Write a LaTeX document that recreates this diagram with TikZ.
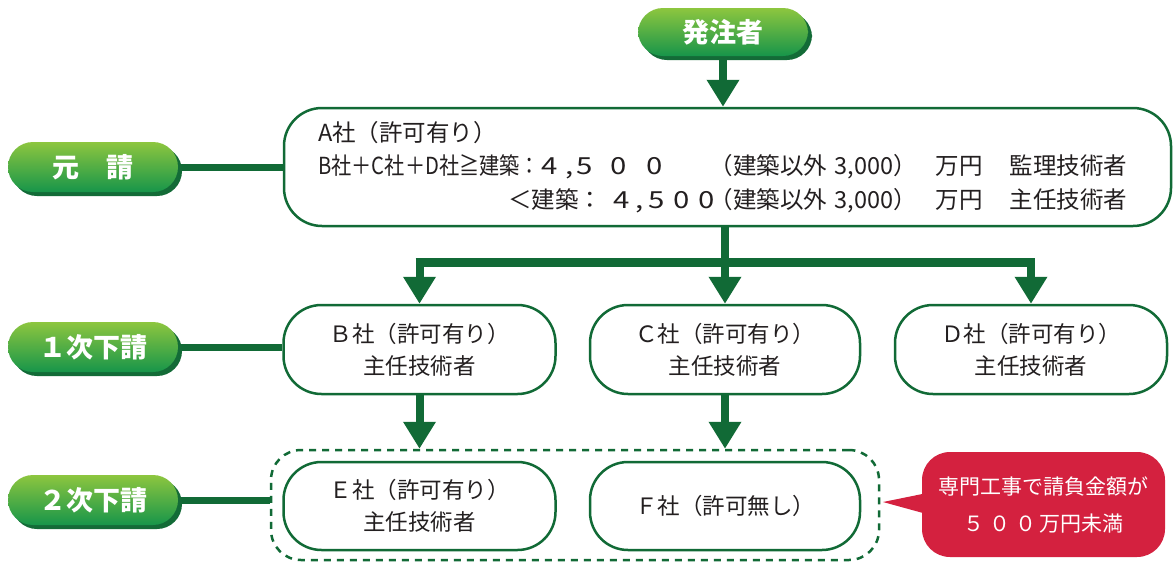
\documentclass[tikz,border=0pt]{standalone}
\usepackage{fontspec}
\setmainfont{Noto Sans CJK JP}
\newfontfamily\narrowjp[FakeStretch=0.86]{Noto Sans CJK JP}
\newfontfamily\widejp[FakeStretch=1.25]{Noto Sans CJK JP}
\usetikzlibrary{arrows.meta,shadows,calc}
\definecolor{dkgreen}{HTML}{116A36}
\definecolor{pilltop}{HTML}{8DC63F}
\definecolor{pillbot}{HTML}{17954A}
\definecolor{pillshadow}{HTML}{136B37}
\definecolor{calloutred}{HTML}{D4213F}
\definecolor{txt}{HTML}{231F20}
\pgfdeclarelayer{bg}
\pgfsetlayers{bg,main}
\newcommand\putat[2]{\rlap{\hskip#1\relax #2}}
\newcommand\dg[1]{{\widejp #1}}
\begin{document}
\begin{tikzpicture}[x=1pt,y=-1pt,
  pill/.style={rectangle, rounded corners=25pt, minimum width=170pt, minimum height=50pt,
    inner sep=0pt, top color=pilltop, bottom color=pillbot, draw=none, text=white,
    font=\fontsize{27}{30}\selectfont\bfseries, text height=23.8pt, text depth=3.2pt,
    general shadow={fill=pillshadow, shadow xshift=4pt, shadow yshift=-4pt}},
  box/.style={rectangle, draw=dkgreen, line width=2.5pt, rounded corners=38pt, fill=white,
    text=txt, align=center, inner sep=0pt, font=\fontsize{22.5}{32}\selectfont},
  atext/.style={text=txt, inner sep=0pt, font=\fontsize{23.5}{30}\selectfont,
    text height=20.7pt, text depth=2.8pt},
  group/.style={rectangle, draw=dkgreen, line width=2.5pt, rounded corners=30pt,
    dash pattern=on 7pt off 6pt},
  callout/.style={rectangle, fill=calloutred, rounded corners=28pt, text=white,
    align=center, inner sep=0pt, font=\fontsize{21}{37}\selectfont},
  conn/.style={draw=dkgreen, line width=8pt, -{Triangle[width=31pt,length=27pt]}},
  hline/.style={draw=dkgreen, line width=7pt},
  trunk/.style={draw=dkgreen, line width=8pt}
]
\useasboundingbox (0,0) rectangle (1173,563);

% top
\node[pill, minimum height=48pt] (H) at (723,32) {発注者};

% prime contractor box
\node[box, minimum width=887pt, minimum height=118pt] (A) at (727.5,167) {};
\node[atext, anchor=west] (A1) at (318,133) {A社（許可有り）};
\node[atext, anchor=west] (A2) at (318,166) {\hbox to 809pt{%
  \putat{0pt}{\narrowjp B社＋C社＋D社≧建築：}%
  \putat{223.5pt}{\dg{4}}\putat{247pt}{\dg{,}}\putat{258.5pt}{\dg{5}}\putat{292.5pt}{\dg{0}}\putat{328.5pt}{\dg{0}}%
  \hfill（建築以外\hskip7pt 3,000）\hskip19pt 万円\hskip27pt 監理技術者}};
\node[atext, anchor=west] (A3) at (318,200) {\hbox to 809pt{%
  \putat{190pt}{＜建築：}%
  \putat{295.5pt}{\dg{4}}\putat{317pt}{\dg{,}}\putat{330.5pt}{\dg{5}}\putat{355.5pt}{\dg{0}}\putat{380.5pt}{\dg{0}}%
  \hfill（建築以外\hskip7pt 3,000）\hskip19pt 万円\hskip27pt 主任技術者}};

% first tier
\node[box, minimum width=272pt, minimum height=89pt] (B) at (419.5,349.5) {Ｂ社（許可有り）\\主任技術者};
\node[box, minimum width=270pt, minimum height=89pt] (C) at (725,349.5) {Ｃ社（許可有り）\\主任技術者};
\node[box, minimum width=272pt, minimum height=89pt] (D) at (1031,349.5) {Ｄ社（許可有り）\\主任技術者};

% second tier
\node[group, minimum width=608pt, minimum height=110pt] (G) at (575,505) {};
\node[box, minimum width=272pt, minimum height=88pt] (E) at (419.5,506) {Ｅ社（許可有り）\\主任技術者};
\node[box, minimum width=270pt, minimum height=88pt] (F) at (725,506) {Ｆ社（許可無し）};

% left labels
\node[pill] (P1) at (93,167) {元　請};
\node[pill] (P2) at (93,347) {１次下請};
\node[pill] (P3) at (93,500) {２次下請};

% callout
\node[callout, minimum width=243pt, minimum height=105pt] (R) at (1043.5,504.5)
  {専門工事で請負金額が\\５\kern5pt ０\kern5pt ０\kern3pt 万円未満};
\coordinate (tip) at (883,502);
\fill[calloutred] ([shift={(3pt,11pt)}]R.west) -- (tip) -- ([shift={(3pt,-9pt)}]R.west) -- cycle;

\coordinate (bar) at (0,262);
\begin{pgfonlayer}{bg}
  \fill[white] (0,0) rectangle (1173,563);
  \draw[conn] (H.south) -- (H.south |- A.north);
  \draw[hline] (P1.east) -- (P1.east -| A.west);
  \draw[hline] (P2.east) -- (P2.east -| B.west);
  \draw[hline] (P3.east) -- (P3.east -| G.west);
  \draw[trunk] (A.south -| C.north) -- (bar -| C.north);
  \draw[draw=dkgreen, line width=9pt] ([xshift=-4pt]bar -| B.north) -- ([xshift=4pt]bar -| D.north);
  \draw[conn] (bar -| B.north) -- (B.north);
  \draw[conn] (bar -| C.north) -- (C.north);
  \draw[conn] (bar -| D.north) -- (D.north);
  \draw[conn] (B.south) -- (B.south |- G.north);
  \draw[conn] (C.south) -- (C.south |- G.north);
\end{pgfonlayer}
\end{tikzpicture}
\end{document}
